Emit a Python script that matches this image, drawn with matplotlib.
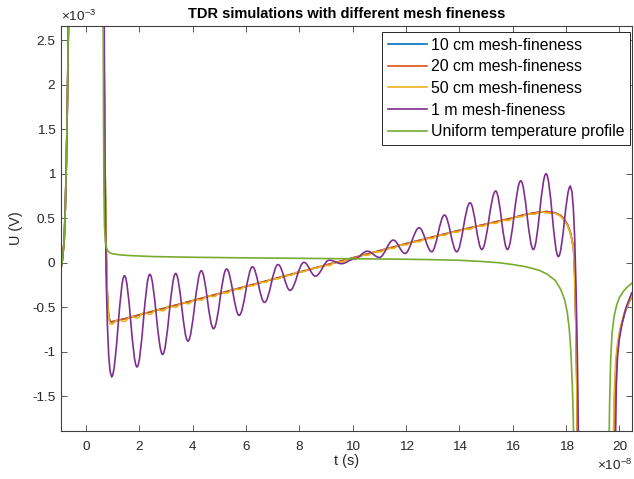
import matplotlib
matplotlib.use("Agg")
import matplotlib.pyplot as plt
from matplotlib.path import Path
from matplotlib.patches import PathPatch
from matplotlib.lines import Line2D
from matplotlib.ticker import MultipleLocator, FuncFormatter

plt.rcParams['font.family'] = ['Liberation Sans', 'DejaVu Sans']
plt.rcParams['mathtext.default'] = 'regular'

# time in units of 1e-8 s, voltage in units of 1e-3 V

# incident pulse, common to every run
pulse_t = [-0.94, -0.90, -0.86, -0.82, -0.78, -0.74, -0.70, -0.66, -0.60, 0.0, 0.60]
pulse_u = [-0.06, 0.0, 0.12, 0.25, 0.6, 1.1, 1.8, 2.7, 4.0, 6.0, 4.0]

# 10 cm and 20 cm runs (identical at this scale)
fine_t = [0.66, 0.70, 0.74, 0.78, 0.82, 0.86, 0.90, 0.95, 1.0, 1.5, 2, 3, 4, 5, 6, 7, 8, 9,
          10, 11, 12, 13, 14, 15, 16, 16.5, 17.0, 17.3, 17.6, 17.8, 17.95, 18.05, 18.15,
          18.22, 18.28, 18.32, 18.36, 18.40, 18.43,
          19.78, 19.82, 19.88, 19.95, 20.05, 20.2, 20.35, 20.47]
fine_u = [2.8, 1.4, 0.4, -0.2, -0.5, -0.62, -0.655, -0.665, -0.66, -0.625, -0.585, -0.505,
          -0.425, -0.345, -0.265, -0.185, -0.105, -0.025, 0.055, 0.135, 0.215, 0.29, 0.365,
          0.435, 0.505, 0.545, 0.57, 0.575, 0.56, 0.53, 0.48, 0.43, 0.35,
          0.26, 0.15, -0.1, -0.6, -1.3, -2.3,
          -2.3, -1.5, -1.1, -0.9, -0.73, -0.56, -0.45, -0.38]

# 50 cm run: small ripple around the same slope
y50_lead_t = [0.66, 0.70, 0.74, 0.78, 0.82, 0.86, 0.91]
y50_lead_u = [2.8, 1.4, 0.4, -0.2, -0.52, -0.64, -0.685]
y50_ext_t = [0.96, 1.20, 1.44, 1.68, 1.92, 2.16, 2.40, 2.64, 2.88, 3.12, 3.36, 3.60, 3.84,
             4.08, 4.32, 4.56, 4.80, 5.04, 5.28, 5.52, 5.76, 6.00, 6.24, 6.48, 6.72, 6.96,
             7.20, 7.44, 7.68, 7.92, 8.16, 8.40, 8.64, 8.88, 9.12, 9.36, 9.60, 9.84, 10.08,
             10.32, 10.56, 10.80, 11.04, 11.28, 11.52, 11.76, 12.00, 12.24, 12.48, 12.72,
             12.96, 13.20, 13.44, 13.68, 13.92, 14.16, 14.40, 14.64, 14.88, 15.12, 15.36,
             15.60, 15.84, 16.08, 16.32, 16.56, 16.80, 17.04, 17.28]
y50_ext_u = [-0.69, -0.64, -0.66, -0.60, -0.62, -0.562, -0.58, -0.525, -0.54, -0.487, -0.50,
             -0.449, -0.46, -0.411, -0.42, -0.372, -0.38, -0.334, -0.34, -0.296, -0.30,
             -0.258, -0.26, -0.22, -0.22, -0.182, -0.18, -0.144, -0.14, -0.105, -0.10,
             -0.067, -0.06, -0.032, -0.03, 0.007, 0.008, 0.045, 0.046, 0.084, 0.085, 0.122,
             0.123, 0.16, 0.162, 0.199, 0.2, 0.236, 0.236, 0.272, 0.272, 0.308, 0.308,
             0.344, 0.344, 0.379, 0.378, 0.413, 0.412, 0.446, 0.443, 0.477, 0.475, 0.514,
             0.516, 0.551, 0.545, 0.573, 0.56]
y50_tail_t = [17.6, 17.8, 17.95, 18.05, 18.15, 18.22, 18.28, 18.32, 18.36, 18.40, 18.43,
              19.76, 19.80, 19.86, 19.93, 20.03, 20.2, 20.35, 20.47]
y50_tail_u = [0.555, 0.52, 0.465, 0.42, 0.34, 0.25, 0.14, -0.12, -0.62, -1.3, -2.3,
              -2.3, -1.5, -1.1, -0.9, -0.73, -0.55, -0.45, -0.37]

# 1 m run: strong ringing (turning points)
m1_lead_t = [0.68, 0.70, 0.72, 0.76, 0.80, 0.85, 0.90]
m1_lead_u = [2.8, 1.6, 0.6, -0.25, -0.7, -1.05, -1.22]
m1_ext_t = [0.96, 1.44, 1.91, 2.39, 2.87, 3.36, 3.82, 4.32, 4.78, 5.27, 5.74, 6.24, 6.69,
            7.20, 7.65, 8.17, 8.60, 9.12, 9.58, 10.05, 10.55, 11.00, 11.52, 11.96, 12.49,
            12.96, 13.44, 13.90, 14.40, 14.84, 15.36, 15.80, 16.30, 16.77, 17.25, 17.71,
            18.16]
m1_ext_u = [-1.28, -0.146, -1.17, -0.13, -1.03, -0.12, -0.88, -0.09, -0.74, -0.07, -0.59,
            -0.045, -0.445, -0.02, -0.31, 0.005, -0.15, 0.03, -0.01, 0.04, 0.13, 0.06, 0.255,
            0.105, 0.393, 0.124, 0.536, 0.124, 0.674, 0.15, 0.806, 0.15, 0.921, 0.15, 1.0,
            0.07, 0.86]
m1_tail_t = [18.22, 18.27, 18.32, 18.37, 18.42, 18.48,
             19.84, 19.88, 19.93, 20.0, 20.1, 20.25, 20.47]
m1_tail_u = [0.8, 0.62, 0.3, -0.25, -1.0, -2.3,
             -2.3, -1.4, -1.05, -0.85, -0.68, -0.5, -0.33]

# uniform temperature profile
uni_t = [0.64, 0.655, 0.67, 0.69, 0.72, 0.76, 0.82, 0.9, 1.0, 1.3, 1.7, 2.5, 4, 6, 8, 10,
         12, 13, 14, 14.8, 15.5, 16.0, 16.5, 17.0, 17.3, 17.6, 17.8, 17.95, 18.05, 18.12,
         18.18, 18.23, 18.27, 18.30,
         19.60, 19.63, 19.67, 19.72, 19.8, 19.9, 20.0, 20.15, 20.3, 20.47]
uni_u = [2.8, 1.6, 0.8, 0.42, 0.25, 0.17, 0.13, 0.11, 0.10, 0.088, 0.08, 0.07, 0.062, 0.055,
         0.05, 0.045, 0.04, 0.035, 0.028, 0.015, 0.0, -0.02, -0.045, -0.085, -0.13, -0.2,
         -0.3, -0.42, -0.57, -0.75, -1.0, -1.35, -1.75, -2.3,
         -2.3, -1.6, -1.1, -0.8, -0.6, -0.47, -0.39, -0.32, -0.27, -0.23]

labels = ['10 cm mesh-fineness', '20 cm mesh-fineness', '50 cm mesh-fineness',
          '1 m mesh-fineness', 'Uniform temperature profile']
colors = ['#0072BD', '#D95319', '#EDB120', '#7E2F8E', '#77AC30']


def ringing_path(lead_t, lead_u, ext_t, ext_u, tail_t, tail_u):
    # straight pieces for the lead/tail, cubic arcs with flat tangents between turning points
    t_all = pulse_t + lead_t
    u_all = pulse_u + lead_u
    verts = [(t_all[0], u_all[0])]
    codes = [Path.MOVETO]
    for t, u in zip(t_all[1:] + [ext_t[0]], u_all[1:] + [ext_u[0]]):
        verts.append((t, u))
        codes.append(Path.LINETO)
    for t0, u0, t1, u1 in zip(ext_t[:-1], ext_u[:-1], ext_t[1:], ext_u[1:]):
        d = 0.364 * (t1 - t0)
        verts += [(t0 + d, u0), (t1 - d, u1), (t1, u1)]
        codes += [Path.CURVE4] * 3
    for t, u in zip(tail_t, tail_u):
        verts.append((t, u))
        codes.append(Path.LINETO)
    return Path(verts, codes)


fig = plt.figure(figsize=(6.34, 4.79), dpi=100)
ax = fig.add_axes([0.0962, 0.1002, 0.9006, 0.8455])
lw = 1.2

ax.plot(pulse_t + fine_t, pulse_u + fine_u, color=colors[0], lw=lw, zorder=2.0)
ax.plot(pulse_t + fine_t, pulse_u + fine_u, color=colors[1], lw=lw, zorder=2.1)
ax.add_patch(PathPatch(ringing_path(y50_lead_t, y50_lead_u, y50_ext_t, y50_ext_u,
                                    y50_tail_t, y50_tail_u),
                       facecolor='none', edgecolor=colors[2], lw=lw, zorder=2.2))
ax.add_patch(PathPatch(ringing_path(m1_lead_t, m1_lead_u, m1_ext_t, m1_ext_u,
                                    m1_tail_t, m1_tail_u),
                       facecolor='none', edgecolor=colors[3], lw=lw, zorder=2.3))
ax.plot(pulse_t + uni_t, pulse_u + uni_u, color=colors[4], lw=lw, zorder=2.4)

ax.set_xlim(-0.94, 20.47)
ax.set_ylim(-1.89, 2.66)
ax.xaxis.set_major_locator(MultipleLocator(2))
ax.yaxis.set_major_locator(MultipleLocator(0.5))
fmt = FuncFormatter(lambda v, p: '%g' % v)
ax.xaxis.set_major_formatter(fmt)
ax.yaxis.set_major_formatter(fmt)

tc = '#262626'
for s in ax.spines.values():
    s.set_color('#404040')
    s.set_linewidth(0.8)
ax.tick_params(direction='in', length=4, width=0.6, color='#404040', labelcolor=tc,
               labelsize=9.7, top=True, right=True)
ax.tick_params(axis='x', pad=7.5)
ax.tick_params(axis='y', pad=4)

ax.set_xlabel('t (s)', fontsize=10.4, color=tc)
ax.set_ylabel('U (V)', fontsize=10.4, color=tc)
ax.xaxis.set_label_coords(0.5, -0.058)
ax.yaxis.set_label_coords(-0.066, 0.5)
ax.set_title('TDR simulations with different mesh fineness', fontsize=10.5,
             fontweight='bold', y=1.021, pad=0)

ax.text(0.0, 1.006, r'$\times10^{-3}$', transform=ax.transAxes, ha='left', va='bottom',
        fontsize=9.7, color=tc)
ax.text(1.0, -0.085, r'$\times10^{-8}$', transform=ax.transAxes, ha='right', va='center',
        fontsize=9.7, color=tc)

handles = [Line2D([], [], color=c, lw=lw) for c in colors]
leg = ax.legend(handles, labels, loc='upper right', bbox_to_anchor=(0.997, 0.985),
                fontsize=11.4, fancybox=False, framealpha=1, edgecolor='#262626',
                handlelength=2.5, handletextpad=0.25, labelspacing=0.42,
                borderpad=0.35, borderaxespad=0)
leg.get_frame().set_linewidth(0.7)

fig.savefig('out.png', dpi=100)
